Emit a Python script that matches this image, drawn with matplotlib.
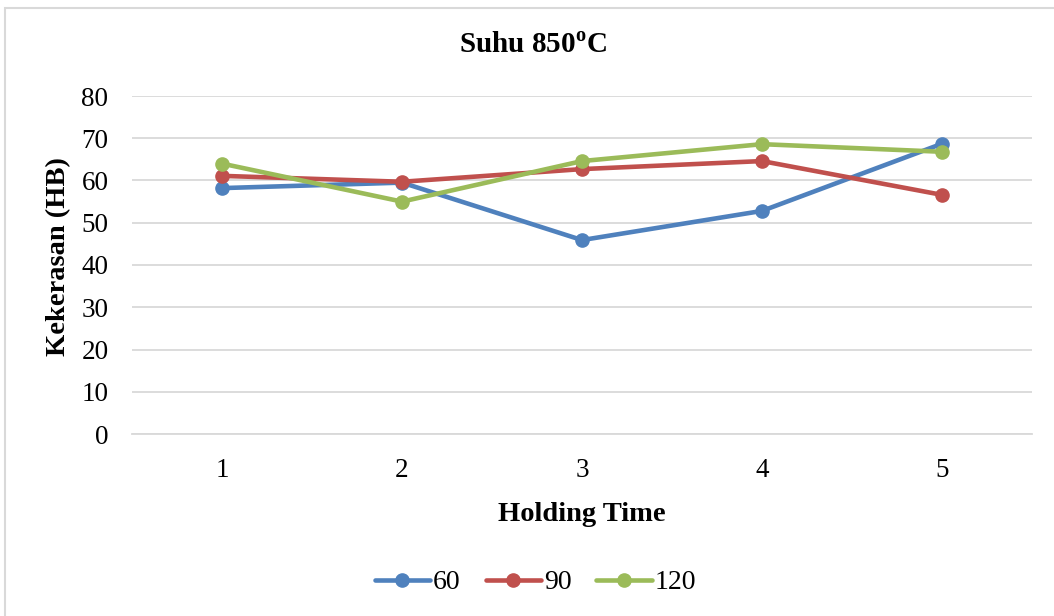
import matplotlib
matplotlib.use("Agg")
import matplotlib.pyplot as plt
from matplotlib.patches import Rectangle

plt.rcParams['font.family'] = ['Liberation Serif', 'DejaVu Serif']
plt.rcParams['mathtext.fontset'] = 'custom'
plt.rcParams['mathtext.rm'] = 'Liberation Serif'
plt.rcParams['mathtext.bf'] = 'Liberation Serif:bold'

# hardness per holding time, one series per temperature hold
holding_time = [1, 2, 3, 4, 5]
series_names = ['60', '90', '120']
hb_60 = [58.2, 59.5, 45.9, 52.8, 68.7]
hb_90 = [61.1, 59.7, 62.7, 64.6, 56.6]
hb_120 = [64.0, 55.0, 64.6, 68.6, 66.8]
colors = ['#4F81BD', '#C0504D', '#9BBB59']
y_ticks = [0, 10, 20, 30, 40, 50, 60, 70, 80]

fig = plt.figure(figsize=(10.54, 6.16), dpi=100)
ax = fig.add_axes([132 / 1054, 1 - 434 / 616, 900 / 1054, 338 / 616])

for vals, name, c in zip([hb_60, hb_90, hb_120], series_names, colors):
    ax.plot(holding_time, vals, color=c, lw=3.3, marker='o', ms=9.5,
            label=name, solid_capstyle='round')

ax.set_xlim(0.5, 5.5)
ax.set_ylim(0, 80)
ax.set_yticks(y_ticks)
ax.set_xticks(holding_time)
ax.grid(axis='y', color='#D9D9D9', lw=1.3)
ax.set_axisbelow(True)
for s in ['top', 'right', 'left']:
    ax.spines[s].set_visible(False)
ax.spines['bottom'].set_color('#D9D9D9')
ax.spines['bottom'].set_linewidth(1.3)
ax.tick_params(length=0, labelsize=19.5)
ax.tick_params(axis='x', pad=17)
ax.tick_params(axis='y', pad=17)

ax.set_xlabel('Holding Time', fontsize=20.5, fontweight='bold', labelpad=14)
ax.set_ylabel('Kekerasan (HB)', fontsize=20.5, fontweight='bold')
ax.yaxis.set_label_coords(-0.068, 0.524)
fig.text(0.506, 0.926, r'Suhu 850$^{\mathbf{o}}$C', fontsize=21,
         fontweight='bold', ha='center', va='center')

fig.legend(loc='center', bbox_to_anchor=(0.508, 0.054), ncol=3, frameon=False,
           fontsize=20, handlelength=2.0, handletextpad=0.1, columnspacing=0.9)

# chart frame: only the top and left edges fall inside the image
fig.patches.append(Rectangle((5 / 1054, -0.1), 1.2, 1.1 - 8 / 616, transform=fig.transFigure,
                             fill=False, edgecolor='#D9D9D9', lw=1.5))

fig.savefig('out.png', dpi=100)
